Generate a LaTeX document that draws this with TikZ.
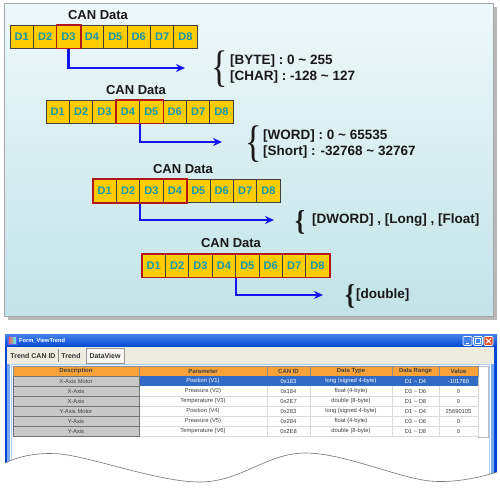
\documentclass[tikz,border=0pt]{standalone}
\usepackage{fontspec}
\setmainfont{Liberation Sans}
\newfontfamily\bracefont{Liberation Serif}
\usetikzlibrary{arrows.meta}
\definecolor{cellgold}{RGB}{255,204,0}
\definecolor{cellteal}{RGB}{20,150,170}
\definecolor{hired}{RGB}{178,24,24}
\definecolor{arrowblue}{RGB}{20,20,240}
\definecolor{paneltop}{RGB}{238,248,250}
\definecolor{panelbot}{RGB}{194,227,231}
\definecolor{xpdark}{RGB}{0,70,210}
\definecolor{xptop}{RGB}{70,130,235}
\definecolor{xpside}{RGB}{120,170,240}
\definecolor{xpred}{RGB}{225,85,45}
\definecolor{tabbeige}{RGB}{238,236,222}
\definecolor{hdrorange}{RGB}{250,162,58}
\definecolor{selblue}{RGB}{49,106,197}
\definecolor{descgrey}{RGB}{200,200,200}
\definecolor{gridgrey}{RGB}{218,218,218}
\tikzset{
  cell/.style={draw=black!75, fill=cellgold, line width=0.8pt, minimum width=23.4pt,
    minimum height=23pt, inner sep=0pt, text=cellteal, font=\bfseries\fontsize{11}{11}\selectfont},
  hilite/.style={draw=hired, line width=1.8pt},
  title/.style={font=\bfseries\fontsize{13}{13}\selectfont, text=black!90},
  note/.style={font=\bfseries\fontsize{13.5}{13.5}\selectfont, text=black!90, anchor=west, inner sep=0pt},
  flow/.style={draw=arrowblue, line width=2.2pt, -{Stealth[length=9pt,width=8pt]}},
  brace/.style={inner sep=0pt, text=black!90, yscale=1.3, font=\bracefont\fontsize{34}{34}\selectfont},
  smallbrace/.style={inner sep=0pt, text=black!90, yscale=1.15, font=\bracefont\bfseries\fontsize{25}{25}\selectfont},
  wintitle/.style={font=\bfseries\fontsize{5.7}{6}\selectfont, text=white, anchor=west, inner sep=0pt},
  winbtn/.style={draw=white, fill=xptop, line width=0.6pt, rounded corners=1pt, minimum size=9pt, inner sep=0pt},
  tabtext/.style={font=\bfseries\fontsize{7}{7}\selectfont, text=black!80, inner sep=0pt},
  tabsel/.style={draw=black!40, fill=tabbeige!40!white, minimum width=38pt, minimum height=15pt,
    inner sep=0pt, font=\bfseries\fontsize{7}{7}\selectfont, text=black!80},
  hdrcell/.style={draw=black!45, fill=hdrorange, line width=0.4pt},
  hdrtext/.style={font=\bfseries\fontsize{6}{6}\selectfont, text=black!75, inner sep=0pt},
  desccell/.style={draw=black!55, fill=descgrey, line width=0.5pt},
  celltext/.style={font=\fontsize{5.8}{6}\selectfont, inner sep=0pt}
}
\newcommand{\canrow}[3]{
  \foreach \i in {1,...,8}{
    \node[cell] (#1\i) at ({#2+(\i-0.5)*23.4},#3) {D\i};
  }
}
\newcommand{\tornedge}{-- plot[smooth, tension=0.6] coordinates {(497,472) (430,481) (305,453) (200,482) (60,454) (5,463)}}

\begin{document}
\begin{tikzpicture}[x=1pt, y=-1pt]
  \useasboundingbox (0,0) rectangle (500,490);
  % Panel
  \fill[black!28] (8,7) rectangle (497,320);
  \shade[top color=paneltop, middle color=paneltop!55!panelbot, bottom color=panelbot] (4,3) rectangle (493,316);
  \draw[black!35] (4,3) rectangle (493,316);

  % Row 1 (one byte)
  \canrow{a}{10}{36.5}
  \node[title] (a-title) at (98,15) {CAN Data};
  \coordinate (a-end) at (185,68);
  \draw[flow] (a3.south) |- (a-end);
  \draw[hilite] (a3.north west) rectangle (a3.south east);
  \node[brace] (a-brace) at (220,69) {\{};
  \node[note] (a-byte) at (230,61) {[BYTE] : 0 \textasciitilde{} 255};
  \node[note] (a-char) at (230,77) {[CHAR] : -128 \textasciitilde{} 127};

  % Row 2 (two bytes)
  \canrow{b}{46}{111.5}
  \node[title] (b-title) at (136,90) {CAN Data};
  \coordinate (b-end) at (222,142);
  \draw[flow] (b4.south east) |- (b-end);
  \draw[hilite] (b4.north west) rectangle (b5.south east);
  \node[brace] (b-brace) at (254,144) {\{};
  \node[note] (b-word) at (263,136) {[WORD] : 0 \textasciitilde{} 65535};
  \node[note] (b-short) at (263,152) {[Short] : -32768 \textasciitilde{} 32767};

  % Row 3 (four bytes)
  \canrow{c}{93}{191}
  \node[title] (c-title) at (183,169) {CAN Data};
  \coordinate (c-end) at (274,220);
  \draw[flow] (c2.south east) |- (c-end);
  \draw[hilite] (c1.north west) rectangle (c4.south east);
  \node[smallbrace] (c-brace) at (300,222) {\{};
  \node[note] (c-dword) at (312,220) {[DWORD] , [Long] , [Float]};

  % Row 4 (eight bytes)
  \canrow{d}{142}{265.5}
  \node[title] (d-title) at (231,243) {CAN Data};
  \coordinate (d-end) at (323,295);
  \draw[flow] (d4.south east) |- (d-end);
  \draw[hilite] (d1.north west) rectangle (d8.south east);
  \node[smallbrace] (d-brace) at (350,296) {\{};
  \node[note] (d-double) at (356,295) {[double]};

  % Window
  \fill[white] (5,334) -- (497,334) \tornedge -- cycle;
  \begin{scope}
    \clip (5,334) -- (497,334) \tornedge -- cycle;
    \fill[xpdark] (5,334) rectangle (7,490);
    \fill[xpside] (7,334) rectangle (10,490);
    \fill[xpside] (491,334) rectangle (494,490);
    \fill[xpdark] (494,334) rectangle (497,490);
    \draw[xpside!60, line width=0.8pt] (11.5,364) -- (11.5,490);
    \draw[xpside!60, line width=0.8pt] (489,364) -- (489,490);
  \end{scope}
  \draw[black!55, line width=0.6pt] (497,472) \tornedge;
  \shade[top color=xptop, bottom color=xpdark] (5,334) rectangle (497,347);
  \fill[tabbeige] (7,347) rectangle (494,364);
  \draw[xpside!60, line width=0.8pt] (11.5,364) -- (489,364);
  % title bar
  \node[draw=blue!60, left color=red!70, right color=cyan!70, minimum size=8pt, inner sep=0pt] (win-icon) at (12,340.5) {};
  \node[wintitle] (win-title) at (19,340.5) {Form\_ViewTrend};
  \node[winbtn] (btn-min) at (467.5,341) {};
  \node[winbtn] (btn-max) at (478,341) {};
  \node[winbtn, fill=xpred] (btn-close) at (488.5,341) {};
  \draw[white, line width=1pt] (btn-min.center) ++(-2,2.5) -- ++(3,0);
  \draw[white, line width=0.6pt] (btn-max.center) ++(-2.5,-2.5) rectangle ++(5,5);
  \draw[white, line width=1pt] (btn-close.center) ++(-2.3,-2.3) -- ++(4.6,4.6) ++(0,-4.6) -- ++(-4.6,4.6);
  % tabs
  \node[tabtext] (tab-id) at (33,355.5) {Trend CAN ID};
  \draw[black!45] (58,349) -- (58,362);
  \node[tabtext] (tab-trend) at (71,355.5) {Trend};
  \node[tabsel] (tab-view) at (105,356) {DataView};

  % Grid
  \draw[black!25, fill=white] (478,366) rectangle (488,437);
  \foreach \xa/\xb/\hd [count=\k] in {13/139/Description, 139/267/Parameter, 267/310/CAN ID,
      310/392/Data Type, 392/439/Data Range, 439/478/Value}{
    \draw[hdrcell] (\xa,366) rectangle (\xb,376);
    \node[hdrtext] (hd\k) at ({(\xa+\xb)/2},371) {\hd};
  }
  \foreach \dsc/\prm/\cid/\dty/\rng/\vlu [count=\r] in {
      X-Axis Motor/Position (V1)/0x183/long (signed 4-byte)/D1 \textasciitilde{} D4/-101760,
      X-Axis/Preasure (V2)/0x184/float (4-byte)/D3 \textasciitilde{} D6/0,
      X-Axis/Temperature (V3)/0x2E7/double (8-byte)/D1 \textasciitilde{} D8/0,
      Y-Axis Motor/Position (V4)/0x283/long (signed 4-byte)/D1 \textasciitilde{} D4/25690105,
      Y-Axis/Preasure (V5)/0x284/float (4-byte)/D3 \textasciitilde{} D6/0,
      Y-Axis/Temperature (V6)/0x2E8/double (8-byte)/D1 \textasciitilde{} D8/0}{
    \pgfmathsetmacro\yt{366+10*\r}
    \pgfmathsetmacro\yc{\yt+5}
    \pgfmathsetmacro\yb{\yt+10}
    \ifnum\r=1
      \fill[selblue] (139,\yt) rectangle (478,\yb);
      \def\tcol{white}
    \else
      \def\tcol{black!75}
      \foreach \xg in {267,310,392,439,478}{\draw[gridgrey] (\xg,\yt) -- (\xg,\yb);}
      \draw[gridgrey] (139,\yb) -- (478,\yb);
    \fi
    \draw[desccell] (13,\yt) rectangle (139,\yb);
    \node[celltext, text=black!75] (ds\r) at (76,\yc) {\dsc};
    \node[celltext, text=\tcol] (pm\r) at (203,\yc) {\prm};
    \node[celltext, text=\tcol] (id\r) at (288.5,\yc) {\cid};
    \node[celltext, text=\tcol] (ty\r) at (351,\yc) {\dty};
    \node[celltext, text=\tcol] (rg\r) at (415.5,\yc) {\rng};
    \node[celltext, text=\tcol] (vl\r) at (458.5,\yc) {\vlu};
  }
\end{tikzpicture}
\end{document}
